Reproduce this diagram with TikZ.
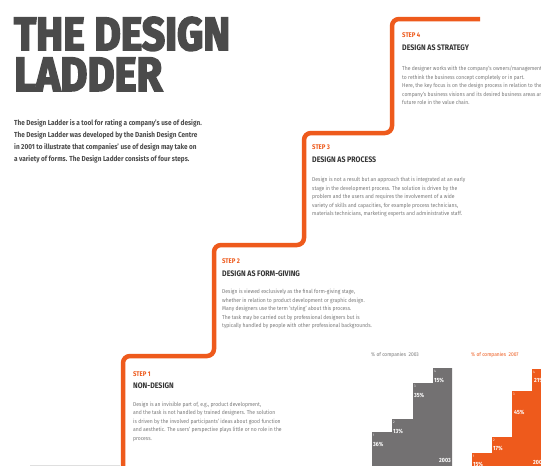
\documentclass[tikz,border=0pt]{standalone}
\usepackage{fontspec}
\setmainfont{Fira Sans}
\newfontfamily\titlefont{Fira Sans}[FakeBold=4]
\newfontfamily\bodyfont{Fira Sans}[FakeStretch=0.9]
\newfontfamily\headfont{Fira Sans}[FakeStretch=0.88]
\definecolor{ladderorange}{HTML}{EE5A1C}
\definecolor{titlegray}{HTML}{4B4B4B}
\definecolor{chartgray}{HTML}{737172}
\definecolor{bodygray}{HTML}{7A7A7A}
\tikzset{
  steplabel/.style={anchor=base west, inner sep=0, text=ladderorange, font=\headfont\bfseries\fontsize{6.8}{8}\selectfont},
  stephead/.style={anchor=base west, inner sep=0, text=titlegray!70!black, font=\headfont\bfseries\fontsize{8}{9}\selectfont},
  stepbody/.style={anchor=base west, inner sep=0, align=left, text=bodygray, font=\bodyfont\fontsize{5.6}{8.6}\selectfont},
  pct/.style={anchor=base west, inner sep=0, text=white, font=\headfont\bfseries\fontsize{6}{7}\selectfont},
  stepnum/.style={anchor=base west, inner sep=0, text=white, font=\bodyfont\fontsize{3.5}{4}\selectfont},
  charttitle/.style={anchor=base west, inner sep=0, font=\bodyfont\fontsize{5.4}{6}\selectfont},
  ladder/.style={draw=ladderorange, line width=4.5pt, rounded corners=7pt},
  bigtitle/.style={anchor=south west, inner sep=0, text=titlegray, font=\titlefont\bfseries}
}
\begin{document}
\begin{tikzpicture}[x=1pt,y=-1pt]
\useasboundingbox[fill=white] (0,0) rectangle (541,466);
\clip (0,0) rectangle (541,466);
% title
\node[bigtitle] (t1) at (14,51) {\resizebox{216pt}{33pt}{THE DESIGN}};
\node[bigtitle] (t2) at (14,91) {\resizebox{148pt}{33pt}{LADDER}};
% multi-line nodes: base anchor = baseline of last line
\node[anchor=base west, inner sep=0, align=left, text=titlegray, font=\headfont\bfseries\fontsize{7.3}{12.3}\selectfont] (intro) at (14,161.9)
 {The Design Ladder is a tool for rating a company’s use of design.\\
  The Design Ladder was developed by the Danish Design Centre\\
  in 2001 to illustrate that companies’ use of design may take on\\
  a variety of forms. The Design Ladder consists of four steps.};
% ladder
\draw[ladder] (123,475) -- (123,356) -- (214,356) -- (214,245) -- (304,245) -- (304,133) -- (392,133) -- (392,19) -- (480,19);
\draw[gray!25, line width=0.6pt] (30,465) -- (120,465);
% step 4
\node[steplabel] (s4l) at (402,37.3) {STEP 4};
\node[stephead] (s4h) at (402,50.7) {DESIGN AS STRATEGY};
\node[stepbody] (s4b) at (402,104.9)
 {The designer works with the company’s owners/management\\
  to rethink the business concept completely or in part.\\
  Here, the key focus is on the design process in relation to the\\
  company’s business visions and its desired business areas and\\
  future role in the value chain.};
% step 3
\node[steplabel] (s3l) at (312,149.5) {STEP 3};
\node[stephead] (s3h) at (312,162) {DESIGN AS PROCESS};
\node[stepbody] (s3b) at (312,215.9)
 {Design is not a result but an approach that is integrated at an early\\
  stage in the development process. The solution is driven by the\\
  problem and the users and requires the involvement of a wide\\
  variety of skills and capacities, for example process technicians,\\
  materials technicians, marketing experts and administrative staff.};
% step 2
\node[steplabel] (s2l) at (222,263) {STEP 2};
\node[stephead] (s2h) at (222,276) {DESIGN AS FORM-GIVING};
\node[stepbody] (s2b) at (222,327.9)
 {Design is viewed exclusively as the final form-giving stage,\\
  whether in relation to product development or graphic design.\\
  Many designers use the term ‘styling’ about this process.\\
  The task may be carried out by professional designers but is\\
  typically handled by people with other professional backgrounds.};
% step 1
\node[steplabel] (s1l) at (133,376) {STEP 1};
\node[stephead] (s1h) at (133,388) {NON-DESIGN};
\node[stepbody] (s1b) at (133,440.4)
 {Design is an invisible part of, e.g., product development,\\
  and the task is not handled by trained designers. The solution\\
  is driven by the involved participants’ ideas about good function\\
  and aesthetic. The users’ perspective plays little or no role in the\\
  process.};
% chart 2003
\node[charttitle, text=bodygray] (c1t) at (371,356) {\% of companies\ \ 2003};
\fill[chartgray] (372,470) |- (392,432) |- (413,419) |- (433,383) |- (452,368) -- (452,470) -- cycle;
\node[stepnum] (g1n) at (373,436.5) {1};
\node[pct] (g1p) at (373,446.5) {36\%};
\node[stepnum] (g2n) at (393,423.5) {2};
\node[pct] (g2p) at (393,433) {13\%};
\node[stepnum] (g3n) at (414,387.5) {3};
\node[pct] (g3p) at (414,397) {35\%};
\node[stepnum] (g4n) at (434,372.5) {4};
\node[pct] (g4p) at (434,382) {15\%};
\node[pct, anchor=base east] (gy) at (451,462) {2003};
% chart 2007
\node[charttitle, text=ladderorange] (c2t) at (471,356) {\% of companies\ \ 2007};
\fill[ladderorange] (472,470) |- (492,453) |- (512,437) |- (532,391) |- (550,369) -- (550,470) -- cycle;
\node[stepnum] (o1n) at (473,457.5) {1};
\node[pct] (o1p) at (473,466) {15\%};
\node[stepnum] (o2n) at (493,441.5) {2};
\node[pct] (o2p) at (493,450.5) {17\%};
\node[stepnum] (o3n) at (513,395.5) {3};
\node[pct] (o3p) at (514,414.5) {45\%};
\node[stepnum] (o4n) at (533,373.5) {4};
\node[pct] (o4p) at (534,382) {21\%};
\node[pct] (oy) at (533,464) {2007};
\end{tikzpicture}
\end{document}
